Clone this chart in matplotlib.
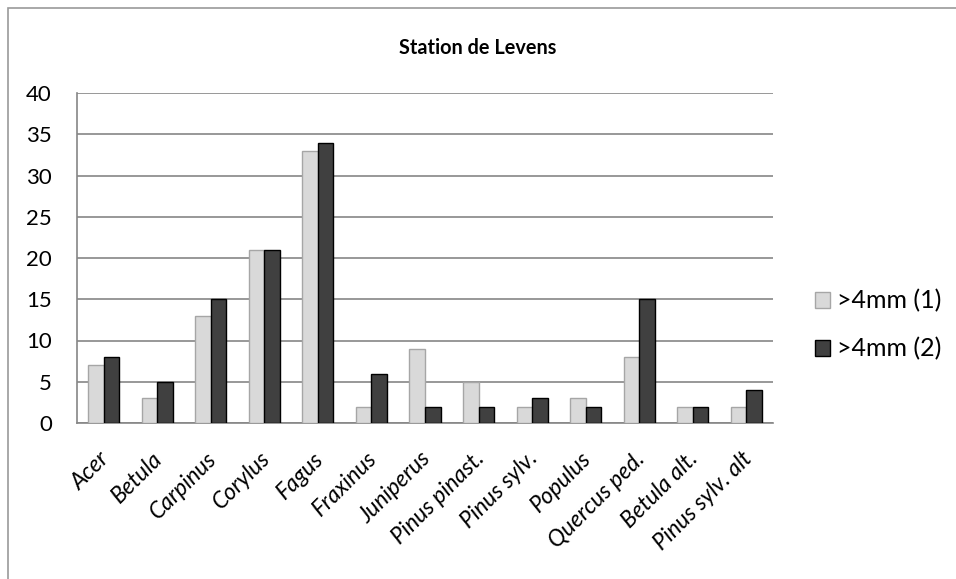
import numpy as np
import matplotlib.pyplot as plt
from matplotlib.patches import Rectangle

plt.rcParams['font.family'] = ['Lato', 'DejaVu Sans']

categories = ['Acer', 'Betula', 'Carpinus', 'Corylus', 'Fagus', 'Fraxinus',
              'Juniperus', 'Pinus pinast.', 'Pinus sylv.', 'Populus',
              'Quercus ped.', 'Betula alt.', 'Pinus sylv. alt']
serie_1 = [7, 3, 13, 21, 33, 2, 9, 5, 2, 3, 8, 2, 2]
serie_2 = [8, 5, 15, 21, 34, 6, 2, 2, 3, 2, 15, 2, 4]
labels = ['>4mm (1)', '>4mm (2)']
yticks = [0, 5, 10, 15, 20, 25, 30, 35, 40]

fig = plt.figure(figsize=(9.56, 5.79), dpi=100)
ax = fig.add_axes([77/956, 1 - 423/579, 696/956, 330/579])

# cadre du graphique (seuls les bords gauche et haut sont visibles)
fig.patches.append(Rectangle((8/956, -0.1), 1.2, (579 - 8)/579 + 0.1,
                             transform=fig.transFigure, fill=False,
                             edgecolor='#9a9a9a', linewidth=1.2))

x = np.arange(len(categories))
w = 0.29
b1 = ax.bar(x - w/2, serie_1, w, color='#d9d9d9', edgecolor='#a6a6a6',
            linewidth=1.0, label=labels[0], zorder=3)
b2 = ax.bar(x + w/2, serie_2, w, color='#404040', edgecolor='#000000',
            linewidth=1.0, label=labels[1], zorder=3)

ax.set_xlim(-0.5, len(categories) - 0.5)
ax.set_ylim(0, 40)
ax.set_yticks(yticks)
ax.set_yticklabels([str(t) for t in yticks], fontsize=16)
ax.yaxis.grid(True, color='#868686', linewidth=1.2, zorder=0)
ax.tick_params(axis='y', length=0, pad=18)
ax.tick_params(axis='x', length=0, pad=18)
ax.set_xticks(x - 0.1)
ax.set_xticklabels(categories, rotation=45, ha='right', rotation_mode='anchor',
                   fontsize=16.5, fontstyle='italic')

for s in ['top', 'right']:
    ax.spines[s].set_visible(False)
for s in ['left', 'bottom']:
    ax.spines[s].set_color('#868686')
    ax.spines[s].set_linewidth(1.2)

fig.text(0.5, 1 - 48/579, 'Station de Levens', ha='center', va='center',
         fontsize=14.3, fontweight='bold')

fig.legend(handles=[b1, b2], labels=labels, loc='center left',
           bbox_to_anchor=(792/956, 1 - 325/579), frameon=False, fontsize=18,
           handlelength=0.6, handleheight=0.6, handletextpad=0.3,
           labelspacing=1.0)

fig.savefig('out.png', dpi=100)
